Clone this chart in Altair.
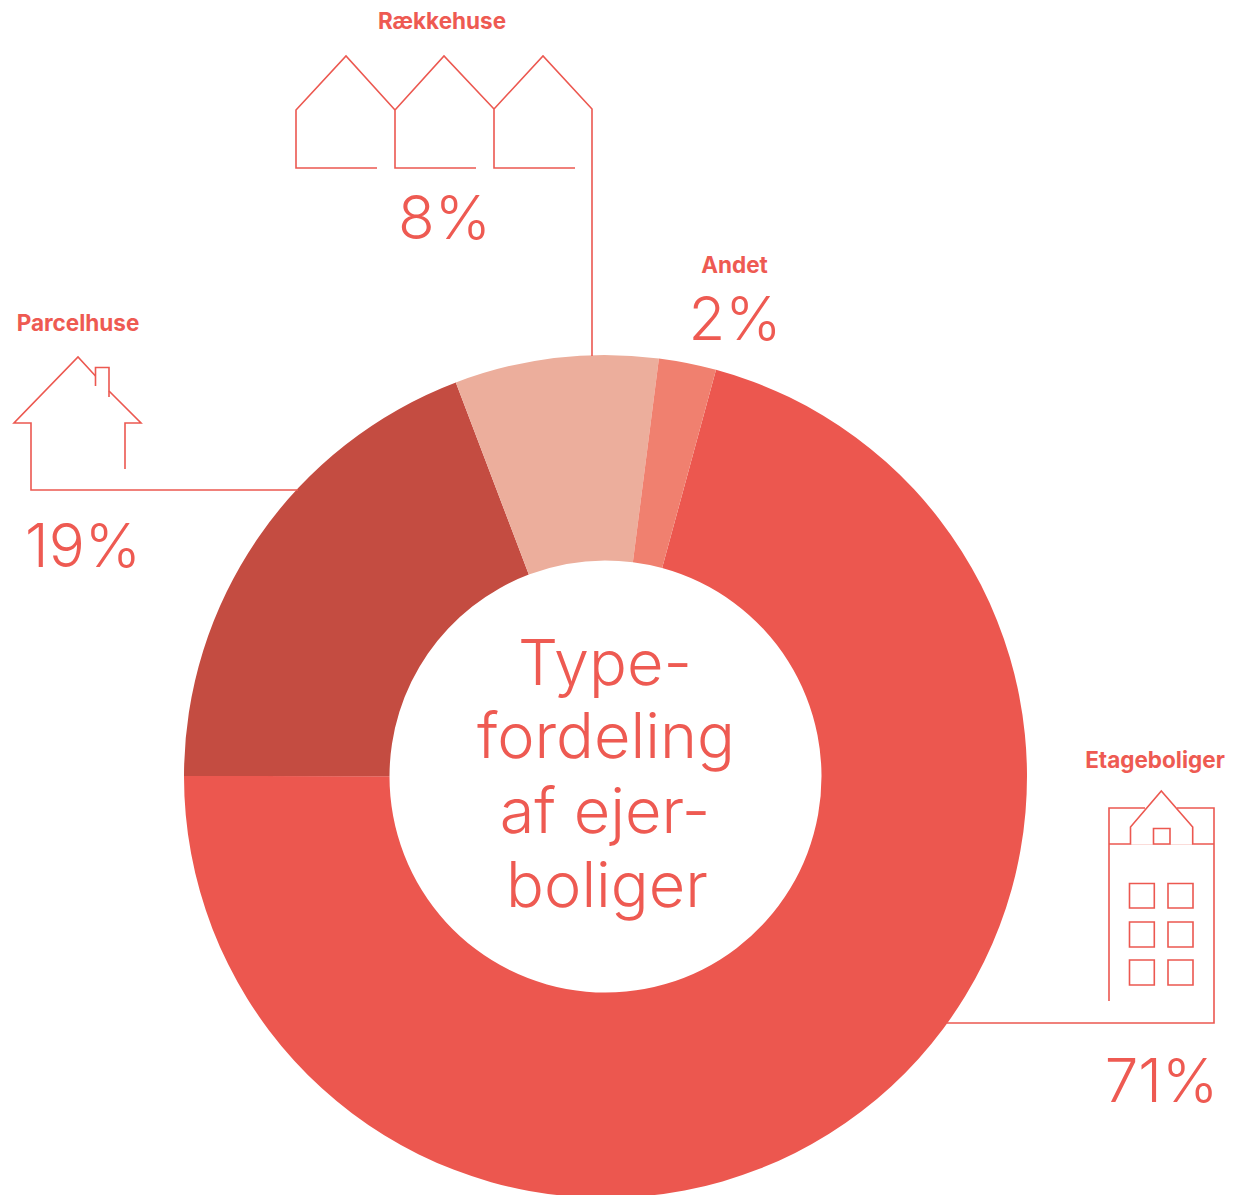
import altair as alt
import pandas as pd

# ---- values
categories = ["Etageboliger", "Parcelhuse", "Rækkehuse", "Andet"]
shares = [70.8, 19.2, 7.8, 2.2]
percent_labels = ["71%", "19%", "8%", "2%"]
slice_colors = ["#EC574F", "#C44C41", "#ECAE9C", "#F0806F"]
center_lines = ["Type-", "fordeling", "af ejer-", "boliger"]

# ---- layout in picture pixels
MARGIN = 8
W, H = 1218, 1190
CX, CY = 605.5, 776.5
START_DEG = 15.2
TEXT = "#EE5A52"
LINE = "#EC5850"
FONT = "Inter"

label_xy = [(1155, 768), (78, 331), (442, 29), (734.5, 273)]
pct_xy = [(1161.5, 1102), (83, 567), (444.5, 239), (735, 340)]
center_xy = [(605, 685), (606, 758), (605, 833), (607, 907)]

# ---- outline drawings (house icons and leader lines)
paths = [
    [(377, 168), (296, 168), (296, 110), (346, 56), (395, 110)],
    [(476, 168), (395, 168), (395, 110), (444, 56), (494, 109)],
    [(575, 168), (494, 168), (494, 109), (543, 56), (592, 109), (592, 356)],
    [(95.5, 376), (78, 357), (14, 423), (31, 423), (31, 490), (298, 490)],
    [(95.5, 386), (95.5, 367.5), (109, 367.5), (109, 397)],
    [(109, 391), (141, 423), (125, 423), (125, 469)],
    [(1109, 1001), (1109, 808), (1145, 808)],
    [(1177, 808), (1214, 808), (1214, 1023), (947, 1023)],
    [(1109, 844), (1130.5, 844), (1130.5, 827), (1161.3, 791), (1192.7, 827), (1192.7, 844), (1214, 844)],
]
faint_path = [(1130.5, 844.5), (1192.7, 844.5)]
boxes = [
    (1153.5, 828.5, 1170, 844),
    (1129.5, 883.5, 1154.3, 908), (1168, 883.5, 1193, 908),
    (1129.5, 922, 1154.3, 947), (1168, 922, 1193, 947),
    (1129.5, 960, 1154.3, 985), (1168, 960, 1193, 985),
]

xs = alt.Scale(domain=[MARGIN, MARGIN + W], range=[0, W])
ys = alt.Scale(domain=[MARGIN, MARGIN + H], range=[0, H])
X = lambda f="x": alt.X(f"{f}:Q", scale=xs, axis=None)
Y = lambda f="y": alt.Y(f"{f}:Q", scale=ys, axis=None)

slices = pd.DataFrame({"cat": categories, "share": shares, "rank": range(4)})
start = START_DEG * 3.141592653589793 / 180
donut = alt.Chart(slices).mark_arc(innerRadius=216, outerRadius=421.5).encode(
    theta=alt.Theta("share:Q", stack=True,
                    scale=alt.Scale(domain=[0, 100], range=[start, start + 2 * 3.141592653589793])),
    color=alt.Color("cat:N", scale=alt.Scale(domain=categories, range=slice_colors), legend=None),
    order=alt.Order("rank:Q"),
    x=alt.value(CX - MARGIN),
    y=alt.value(CY - MARGIN),
)

rows = []
for i, p in enumerate(paths):
    rows += [{"id": i, "k": j, "x": a, "y": b} for j, (a, b) in enumerate(p)]
lines = alt.Chart(pd.DataFrame(rows)).mark_line(color=LINE, strokeWidth=1.6, strokeJoin="miter").encode(
    x=X(), y=Y(), detail="id:N", order="k:Q"
)
faint = alt.Chart(pd.DataFrame(faint_path, columns=["x", "y"])).mark_line(
    color="#FBDCD9", strokeWidth=1
).encode(x=X(), y=Y())
box_df = pd.DataFrame(boxes, columns=["x", "y", "x2", "y2"])
box_marks = alt.Chart(box_df).mark_rect(fill=None, stroke=LINE, strokeWidth=1.6).encode(
    x=X(), y=Y(), x2="x2:Q", y2="y2:Q"
)

def texts(strings, xy, size, weight):
    df = pd.DataFrame({"t": strings, "x": [a for a, _ in xy], "y": [b for _, b in xy]})
    return alt.Chart(df).mark_text(
        font=FONT, fontSize=size, fontWeight=weight, color=TEXT,
        align="center", baseline="alphabetic"
    ).encode(x=X(), y=Y(), text="t:N")

chart = alt.layer(
    donut, faint, lines, box_marks,
    texts(categories, label_xy, 22.5, 700),
    texts(percent_labels, pct_xy, 60, 300),
    texts(center_lines, center_xy, 63, 300),
).properties(width=W, height=H, padding=0, background="white",
             autosize=alt.AutoSizeParams(type="none")
).configure_view(stroke=None)

chart.save("out.html", embed_options={"renderer": "svg", "actions": False})
